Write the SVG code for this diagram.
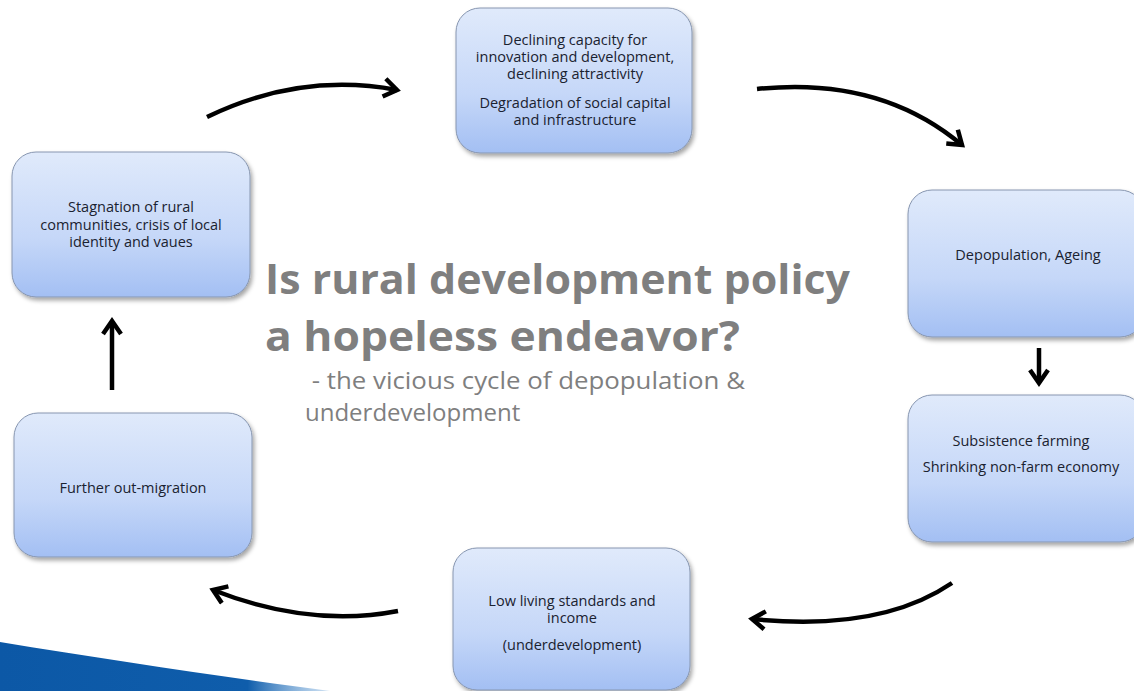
<svg xmlns="http://www.w3.org/2000/svg" width="1134" height="691" viewBox="0 0 1134 691">
  <defs>
    <linearGradient id="boxFill" x1="0" y1="0" x2="0" y2="1">
      <stop offset="0" stop-color="#e0eafb"/>
      <stop offset="0.6" stop-color="#c5d7f8"/>
      <stop offset="1" stop-color="#a3bff3"/>
    </linearGradient>
    <linearGradient id="bandFill" x1="0" y1="0" x2="1" y2="0">
      <stop offset="0" stop-color="#0c58a6"/>
      <stop offset="0.75" stop-color="#0f5dab"/>
      <stop offset="1" stop-color="#5d9bd6" stop-opacity="0.3"/>
    </linearGradient>
    <filter id="shadow" x="-10%" y="-10%" width="125%" height="130%">
      <feDropShadow dx="2" dy="3" stdDeviation="2" flood-color="#000" flood-opacity="0.35"/>
    </filter>
    <marker id="chevron" viewBox="0 0 22 22" refX="17" refY="11" markerWidth="22" markerHeight="22" markerUnits="userSpaceOnUse" orient="auto">
      <path d="M4,2 L17,11 L4,20" fill="none" stroke="#000" stroke-width="4.5" stroke-linejoin="miter"/>
    </marker>
  </defs>
  <style>
    .box { fill: url(#boxFill); stroke: #8796b0; stroke-width: 1; filter: url(#shadow); }
    .lbl { font-family: "Open Sans", "Liberation Sans", sans-serif; font-size: 14.5px; fill: #1a2230; text-anchor: middle; }
    .title { font-family: "Open Sans", "Liberation Sans", sans-serif; font-weight: bold; font-size: 42px; fill: #7f7f7f; }
    .sub { font-family: "Open Sans", "Liberation Sans", sans-serif; font-size: 24px; fill: #7f7f7f; }
    .arrow { fill: none; stroke: #000; stroke-width: 4.5; stroke-linecap: butt; marker-end: url(#chevron); }
  </style>

  <rect width="1134" height="691" fill="#ffffff"/>

  <!-- corner band -->
  <path d="M0,642 C110,660 230,678 330,691 L0,691 Z" fill="url(#bandFill)"/>

  <!-- heading -->
  <g id="heading">
    <text class="title" x="265" y="294" textLength="585" lengthAdjust="spacingAndGlyphs">Is rural development policy</text>
    <text class="title" x="265" y="351" textLength="475" lengthAdjust="spacingAndGlyphs">a hopeless endeavor?</text>
    <text class="sub" x="305" y="389" textLength="440" lengthAdjust="spacingAndGlyphs" xml:space="preserve"> - the vicious cycle of depopulation &amp;</text>
    <text class="sub" x="305" y="421">underdevelopment</text>
  </g>

  <g id="node-capacity">
    <rect class="box" x="456" y="8" width="236" height="145" rx="24"/>
    <text class="lbl" x="575" y="45">Declining capacity for</text>
    <text class="lbl" x="575" y="62">innovation and development,</text>
    <text class="lbl" x="575" y="79">declining attractivity</text>
    <text class="lbl" x="575" y="108">Degradation of social capital</text>
    <text class="lbl" x="575" y="125">and infrastructure</text>
  </g>

  <g id="node-depopulation">
    <rect class="box" x="908" y="190" width="236" height="147" rx="24"/>
    <text class="lbl" x="1028" y="260">Depopulation, Ageing</text>
  </g>

  <g id="node-farming">
    <rect class="box" x="908" y="395" width="236" height="147" rx="24"/>
    <text class="lbl" x="1021" y="446">Subsistence farming</text>
    <text class="lbl" x="1021" y="472">Shrinking non-farm economy</text>
  </g>

  <g id="node-income">
    <rect class="box" x="453" y="548" width="237" height="142" rx="24"/>
    <text class="lbl" x="572" y="606">Low living standards and</text>
    <text class="lbl" x="572" y="623">income</text>
    <text class="lbl" x="572" y="650">(underdevelopment)</text>
  </g>

  <g id="node-migration">
    <rect class="box" x="14" y="413" width="238" height="144" rx="24"/>
    <text class="lbl" x="133" y="493">Further out-migration</text>
  </g>

  <g id="node-stagnation">
    <rect class="box" x="12" y="152" width="238" height="145" rx="24"/>
    <text class="lbl" x="131" y="212">Stagnation of rural</text>
    <text class="lbl" x="131" y="230">communities, crisis of local</text>
    <text class="lbl" x="131" y="247">identity and vaues</text>
  </g>

  <g id="connectors">
    <path class="arrow" d="M207,117 Q300,72 397,90"/>
    <path class="arrow" d="M757,89 Q880,76 962,145"/>
    <path class="arrow" d="M1039,348 L1039,383"/>
    <path class="arrow" d="M952,583 Q880,632 752,619"/>
    <path class="arrow" d="M398,611 Q310,628 213,590"/>
    <path class="arrow" d="M112,390 L112,321"/>
  </g>
</svg>
